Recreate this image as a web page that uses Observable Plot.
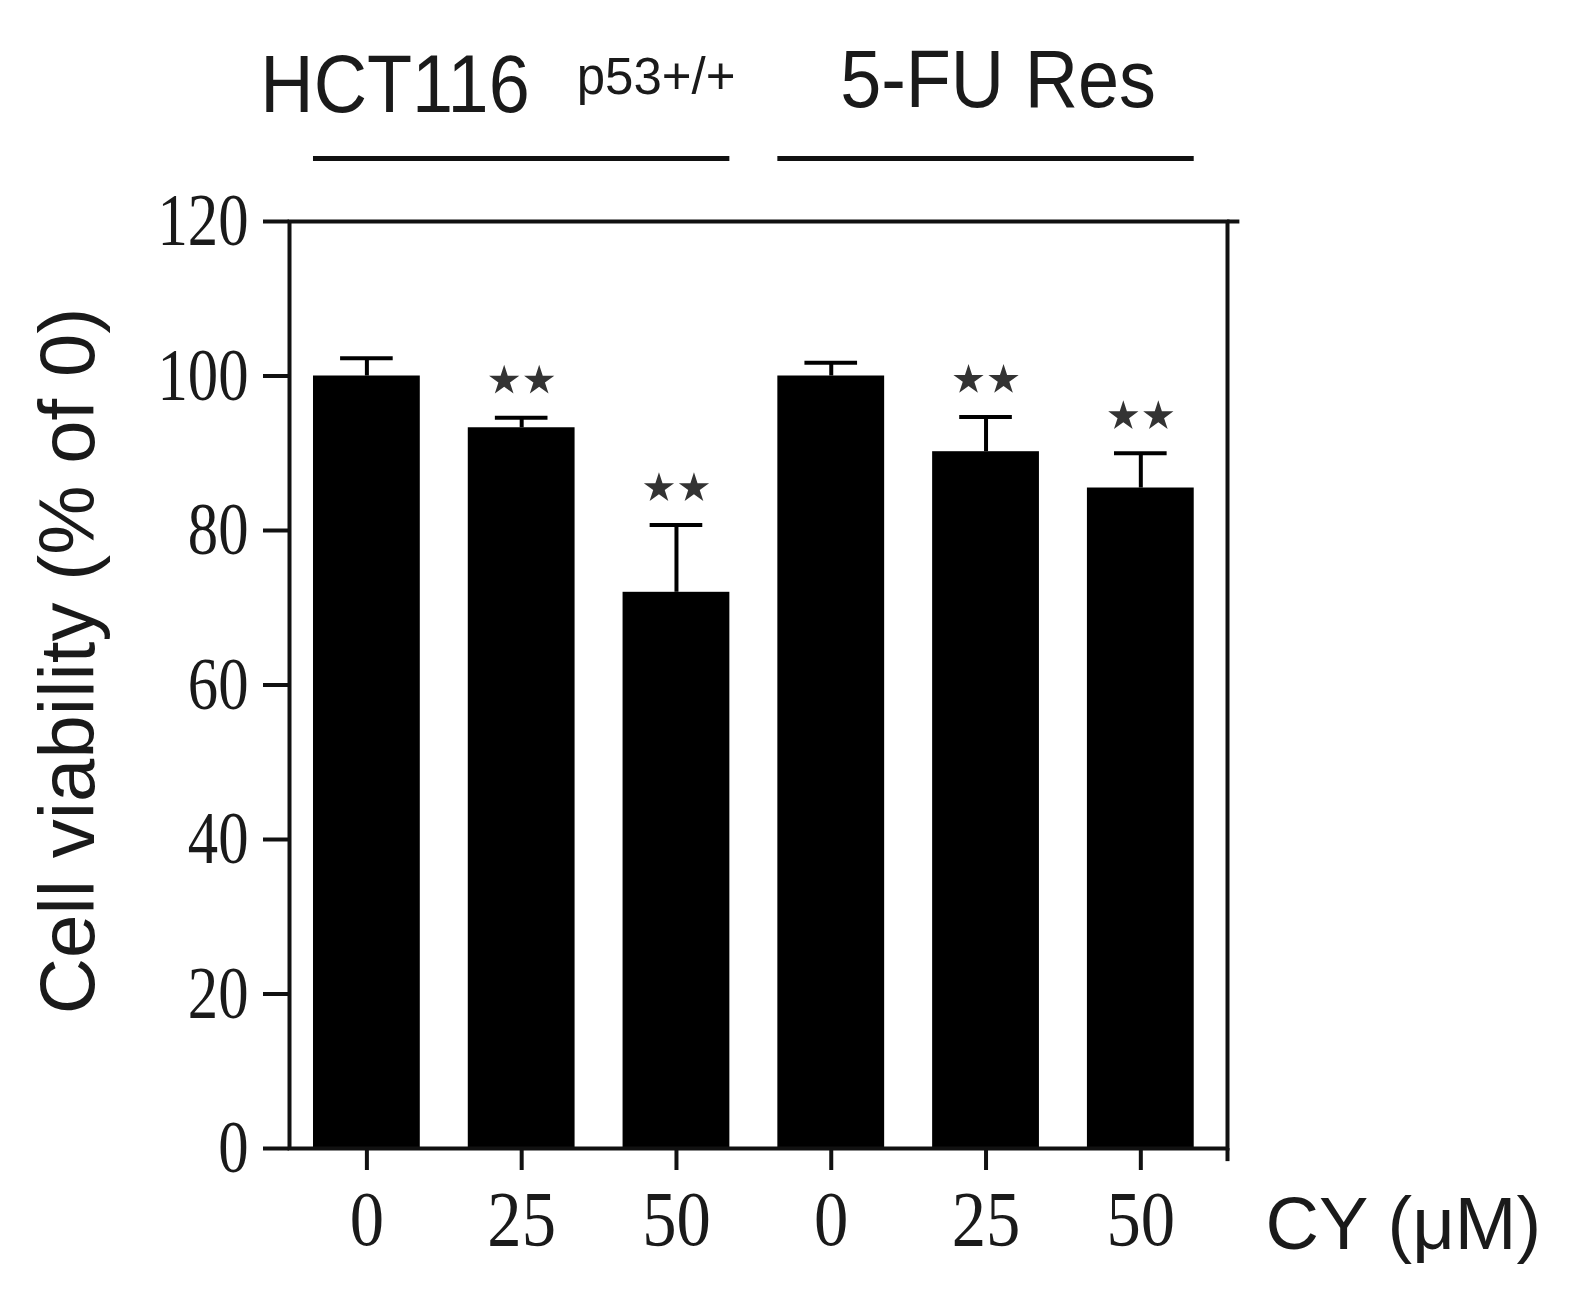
<!DOCTYPE html>
<html><head><meta charset="utf-8">
<script src="https://cdn.jsdelivr.net/npm/d3@7"></script>
<script src="https://cdn.jsdelivr.net/npm/@observablehq/plot@0.6"></script>
<style>
body{margin:0;background:#fff}
g[aria-label^="y-axis"] text{font-family:"Liberation Serif",serif;font-size:74px;fill:#1a1a1a}
g[aria-label^="x-axis"] text{font-family:"Liberation Serif",serif;font-size:78px;fill:#1a1a1a}
g[aria-label^="y-axis"] path, g[aria-label^="y-axis"] line,
g[aria-label^="x-axis"] path, g[aria-label^="x-axis"] line{stroke:#111;stroke-width:4px}
</style></head><body><div id="chart"></div>
<script>
// ---- data ----
const cellLines = ["HCT116", "HCT116", "HCT116", "5-FU Res", "5-FU Res", "5-FU Res"];
const doses = [0, 25, 50, 0, 25, 50];
const viability = [100, 93.3, 72.0, 100, 90.2, 85.5];
const sem = [2.3, 1.3, 8.7, 1.7, 4.5, 4.5];
const significance = ["", "**", "**", "", "**", "**"];
const yTicks = [0, 20, 40, 60, 80, 100, 120];
const groupNames = ["HCT116", "5-FU Res"];
const groupSuperscripts = ["p53+/+", ""];
const yLabel = "Cell viability (% of 0)";
const xLabel = "CY (\u03BCM)";

// ---- layout constants ----
const halfBar = 0.345, capHalf = 0.17;
const xMin = -0.5, xMax = 5.56;

const rows = doses.map((d, i) => ({
  i, line: cellLines[i], dose: d, v: viability[i], hi: viability[i] + sem[i], sig: significance[i]
}));
const sigRows = rows.filter(r => r.sig);
const groups = groupNames.map((name, g) => {
  const idx = rows.filter(r => r.line === name).map(r => r.i);
  const a = d3.min(idx), b = d3.max(idx);
  return {name, sup: groupSuperscripts[g], x1: a - halfBar, x2: b + halfBar, c: (a + b) / 2};
});
const yTop = d3.max(yTicks);

const sans = "'Liberation Sans', Arial, sans-serif";

const plot = Plot.plot({
  width: 1581, height: 1314,
  marginLeft: 289, marginRight: 354, marginTop: 221, marginBottom: 166,
  style: {fontFamily: sans, background: "white", color: "#111"},
  x: {domain: [xMin, xMax], ticks: rows.map(r => r.i), tickFormat: i => String(doses[i]),
      tickSize: 22, tickPadding: 19, label: null},
  y: {domain: [0, yTop], ticks: yTicks, tickSize: 26, tickPadding: 15, label: null},
  marks: [
    Plot.rect(rows, {x1: r => r.i - halfBar, x2: r => r.i + halfBar, y1: () => 0, y2: "v", fill: "#000"}),
    Plot.ruleX(rows, {x: "i", y1: "v", y2: "hi", stroke: "#000", strokeWidth: 4}),
    Plot.ruleY(rows, {x1: r => r.i - capHalf, x2: r => r.i + capHalf, y: "hi", stroke: "#000", strokeWidth: 4}),
    // significance stars (two per bar)
    Plot.dot(sigRows, {x: "i", y: "hi", symbol: "star", r: 9.5, fill: "#333", stroke: null, dx: -17.5, dy: -37}),
    Plot.dot(sigRows, {x: "i", y: "hi", symbol: "star", r: 9.5, fill: "#333", stroke: null, dx: 17.5, dy: -37}),
    Plot.frame({stroke: "#111", strokeWidth: 4}),
    // small overhangs of the top and right frame lines
    Plot.ruleY([yTop], {x1: () => xMax, x2: () => xMax + 0.08, stroke: "#111", strokeWidth: 4}),
    Plot.ruleX([xMax], {y1: () => -1.7, y2: () => 0, stroke: "#111", strokeWidth: 4}),
    // group brackets and titles
    Plot.ruleY(groups, {x1: "x1", x2: "x2", y: () => yTop, dy: -63, stroke: "#111", strokeWidth: 5}),
    Plot.text(groups.filter(g => g.sup), {x: "c", y: () => yTop, text: "name", textAnchor: "end",
      lineAnchor: "bottom", dx: 8, dy: -110, fontSize: 82, fill: "#1a1a1a", fontFamily: sans}),
    Plot.text(groups.filter(g => g.sup), {x: "c", y: () => yTop, text: "sup", textAnchor: "start",
      lineAnchor: "bottom", dx: 55, dy: -128, fontSize: 51, fill: "#1a1a1a", fontFamily: sans}),
    Plot.text(groups.filter(g => !g.sup), {x: "c", y: () => yTop, text: "name", textAnchor: "middle",
      lineAnchor: "bottom", dx: 12, dy: -115, fontSize: 82, fill: "#1a1a1a", fontFamily: sans}),
    // axis titles
    Plot.text([yLabel], {frameAnchor: "left", text: d => d, rotate: -90, textAnchor: "middle", lineAnchor: "bottom",
      dx: -196, dy: -24, fontSize: 78, fill: "#1a1a1a", fontFamily: sans}),
    Plot.text([xLabel], {frameAnchor: "bottom-right", text: d => d, textAnchor: "start", lineAnchor: "bottom",
      dx: 38, dy: 100, fontSize: 74, fill: "#1a1a1a", fontFamily: sans})
  ]
});
document.getElementById("chart").appendChild(plot);

function condenseText(node, k) {
  try {
    const w = node.getComputedTextLength();
    if (w > 0) { node.setAttribute("textLength", w * k); node.setAttribute("lengthAdjust", "spacingAndGlyphs"); }
  } catch (e) {}
}
const svg = d3.select(plot);
svg.selectAll('g[aria-label^="y-axis"] text').each(function () { condenseText(this, 0.82); });
svg.selectAll('g[aria-label^="x-axis"] text').each(function () { condenseText(this, 0.88); });
svg.selectAll("text").filter(function () { return groupNames.includes(this.textContent); })
  .each(function () { condenseText(this, 0.9); });
</script>
</body></html>
